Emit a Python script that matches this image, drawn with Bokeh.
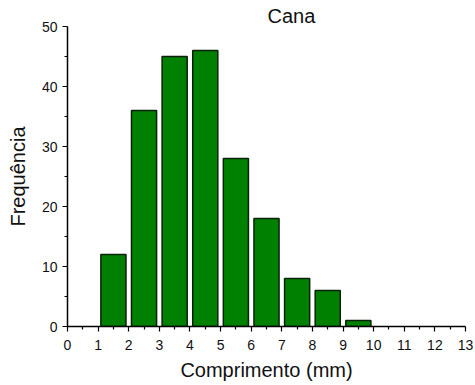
from bokeh.plotting import figure
from bokeh.models import Range1d, Title, FixedTicker
from bokeh.embed import file_html
from bokeh.resources import INLINE

# Histogram of lengths (mm): bin edges and counts
bin_left = [1, 2, 3, 4, 5, 6, 7, 8, 9]
bin_right = [2, 3, 4, 5, 6, 7, 8, 9, 10]
counts = [12, 36, 45, 46, 28, 18, 8, 6, 1]
x_ticks = list(range(0, 14))
y_ticks = [0, 10, 20, 30, 40, 50]

FONT = "Liberation Sans"

p = figure(width=475, height=385, output_backend="svg", toolbar_location=None,
           x_range=Range1d(0, 13), y_range=Range1d(0, 50),
           min_border_left=67, min_border_right=10, min_border_top=26, min_border_bottom=59)

centers = [(a + b) / 2 for a, b in zip(bin_left, bin_right)]
widths = [(b - a) * 0.82 for a, b in zip(bin_left, bin_right)]
p.vbar(x=centers, top=counts, bottom=0, width=widths,
       fill_color="#008000", line_color="#0a200a", line_width=1.5)

p.outline_line_color = None
p.grid.visible = False
p.background_fill_color = "white"
p.border_fill_color = "white"

p.xaxis.ticker = FixedTicker(ticks=x_ticks, minor_ticks=[i + 0.5 for i in range(13)])
p.yaxis.ticker = FixedTicker(ticks=y_ticks, minor_ticks=[5, 15, 25, 35, 45])

for ax in (p.xaxis[0], p.yaxis[0]):
    ax.axis_line_color = "black"
    ax.axis_line_width = 1.5
    ax.major_tick_line_color = "black"
    ax.minor_tick_line_color = "black"
    ax.major_tick_line_width = 1.2
    ax.minor_tick_line_width = 1.2
    ax.major_tick_in = 0
    ax.major_tick_out = 5
    ax.minor_tick_in = 0
    ax.minor_tick_out = 3
    ax.major_label_text_font = FONT
    ax.major_label_text_font_size = "14px"
    ax.major_label_text_color = "#111111"
    ax.axis_label_text_font = FONT
    ax.axis_label_text_font_size = "20px"
    ax.axis_label_text_font_style = "normal"
    ax.axis_label_text_color = "#111111"

p.xaxis.axis_label = "Comprimento (mm)"
p.yaxis.axis_label = "Frequência"
p.xaxis.major_label_standoff = 8
p.yaxis.major_label_standoff = 5
p.xaxis.axis_label_standoff = 6
p.yaxis.axis_label_standoff = 10

# Panel title sitting just above the plotting area, shifted toward the right
p.add_layout(Title(text="Cana", align="left", offset=200, standoff=0,
                   text_font=FONT, text_font_size="20px", text_font_style="normal",
                   text_color="#111111"), "above")

open("out.html", "w").write(file_html(p, INLINE))
